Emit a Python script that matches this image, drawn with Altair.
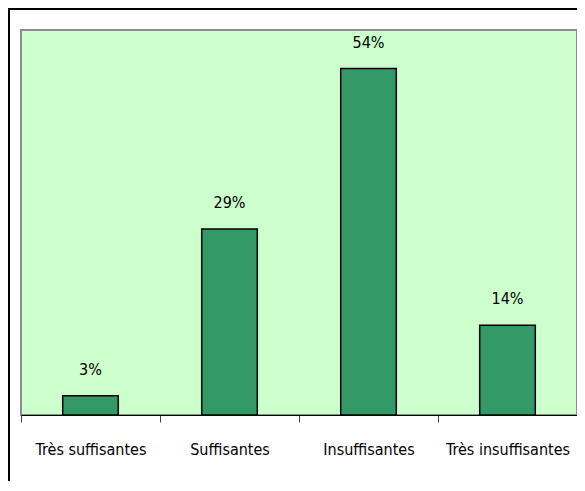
import altair as alt
import pandas as pd

categories = ["Très suffisantes", "Suffisantes", "Insuffisantes", "Très insuffisantes"]
values = [3, 29, 54, 14]

df = pd.DataFrame({"cat": categories, "value": values})

FONT = "Liberation Sans Narrow, DejaVu Sans Condensed, Arial Narrow, sans-serif"

x_enc = alt.X("cat:N", sort=categories, title=None,
              scale=alt.Scale(paddingInner=0, paddingOuter=0),
              axis=alt.Axis(labelAngle=0, tickBand="extent", domainColor="#000000",
                            domainWidth=1, tickColor="#444444", tickSize=7,
                            labelFont=FONT, labelFontSize=16, labelPadding=19,
                            labelColor="#000000", grid=False))
y_enc = alt.Y("value:Q", scale=alt.Scale(domain=[0, 60]), axis=None)

base = alt.Chart(df)

bars = base.mark_bar(width=alt.RelativeBandSize(0.4), color="#339966",
                     stroke="#000000", strokeWidth=1.5).encode(x=x_enc, y=y_enc)

labels = base.transform_calculate(label="datum.value + '%'").mark_text(
    dy=-26, baseline="middle", font=FONT, fontSize=16, color="#000000"
).encode(x=x_enc, y=y_enc, text="label:N")

top_border = alt.Chart(df).mark_rule(color="#000000", strokeWidth=2).encode(
    x=alt.value(-13), x2=alt.value(600), y=alt.value(-21))
left_border = alt.Chart(df).mark_rule(color="#000000", strokeWidth=2).encode(
    x=alt.value(-12), y=alt.value(-22), y2=alt.value(500))

chart = alt.layer(bars, labels, top_border, left_border).properties(
    width=556, height=385,
    autosize=alt.AutoSizeParams(type="none"),
    padding={"left": 13, "top": 22, "right": 0, "bottom": 66},
    background="#ffffff",
).configure_view(fill="#CCFFCC", stroke="#8c8c8c", strokeWidth=2)

chart.save("out.html", embed_options={"renderer": "svg", "actions": False})
